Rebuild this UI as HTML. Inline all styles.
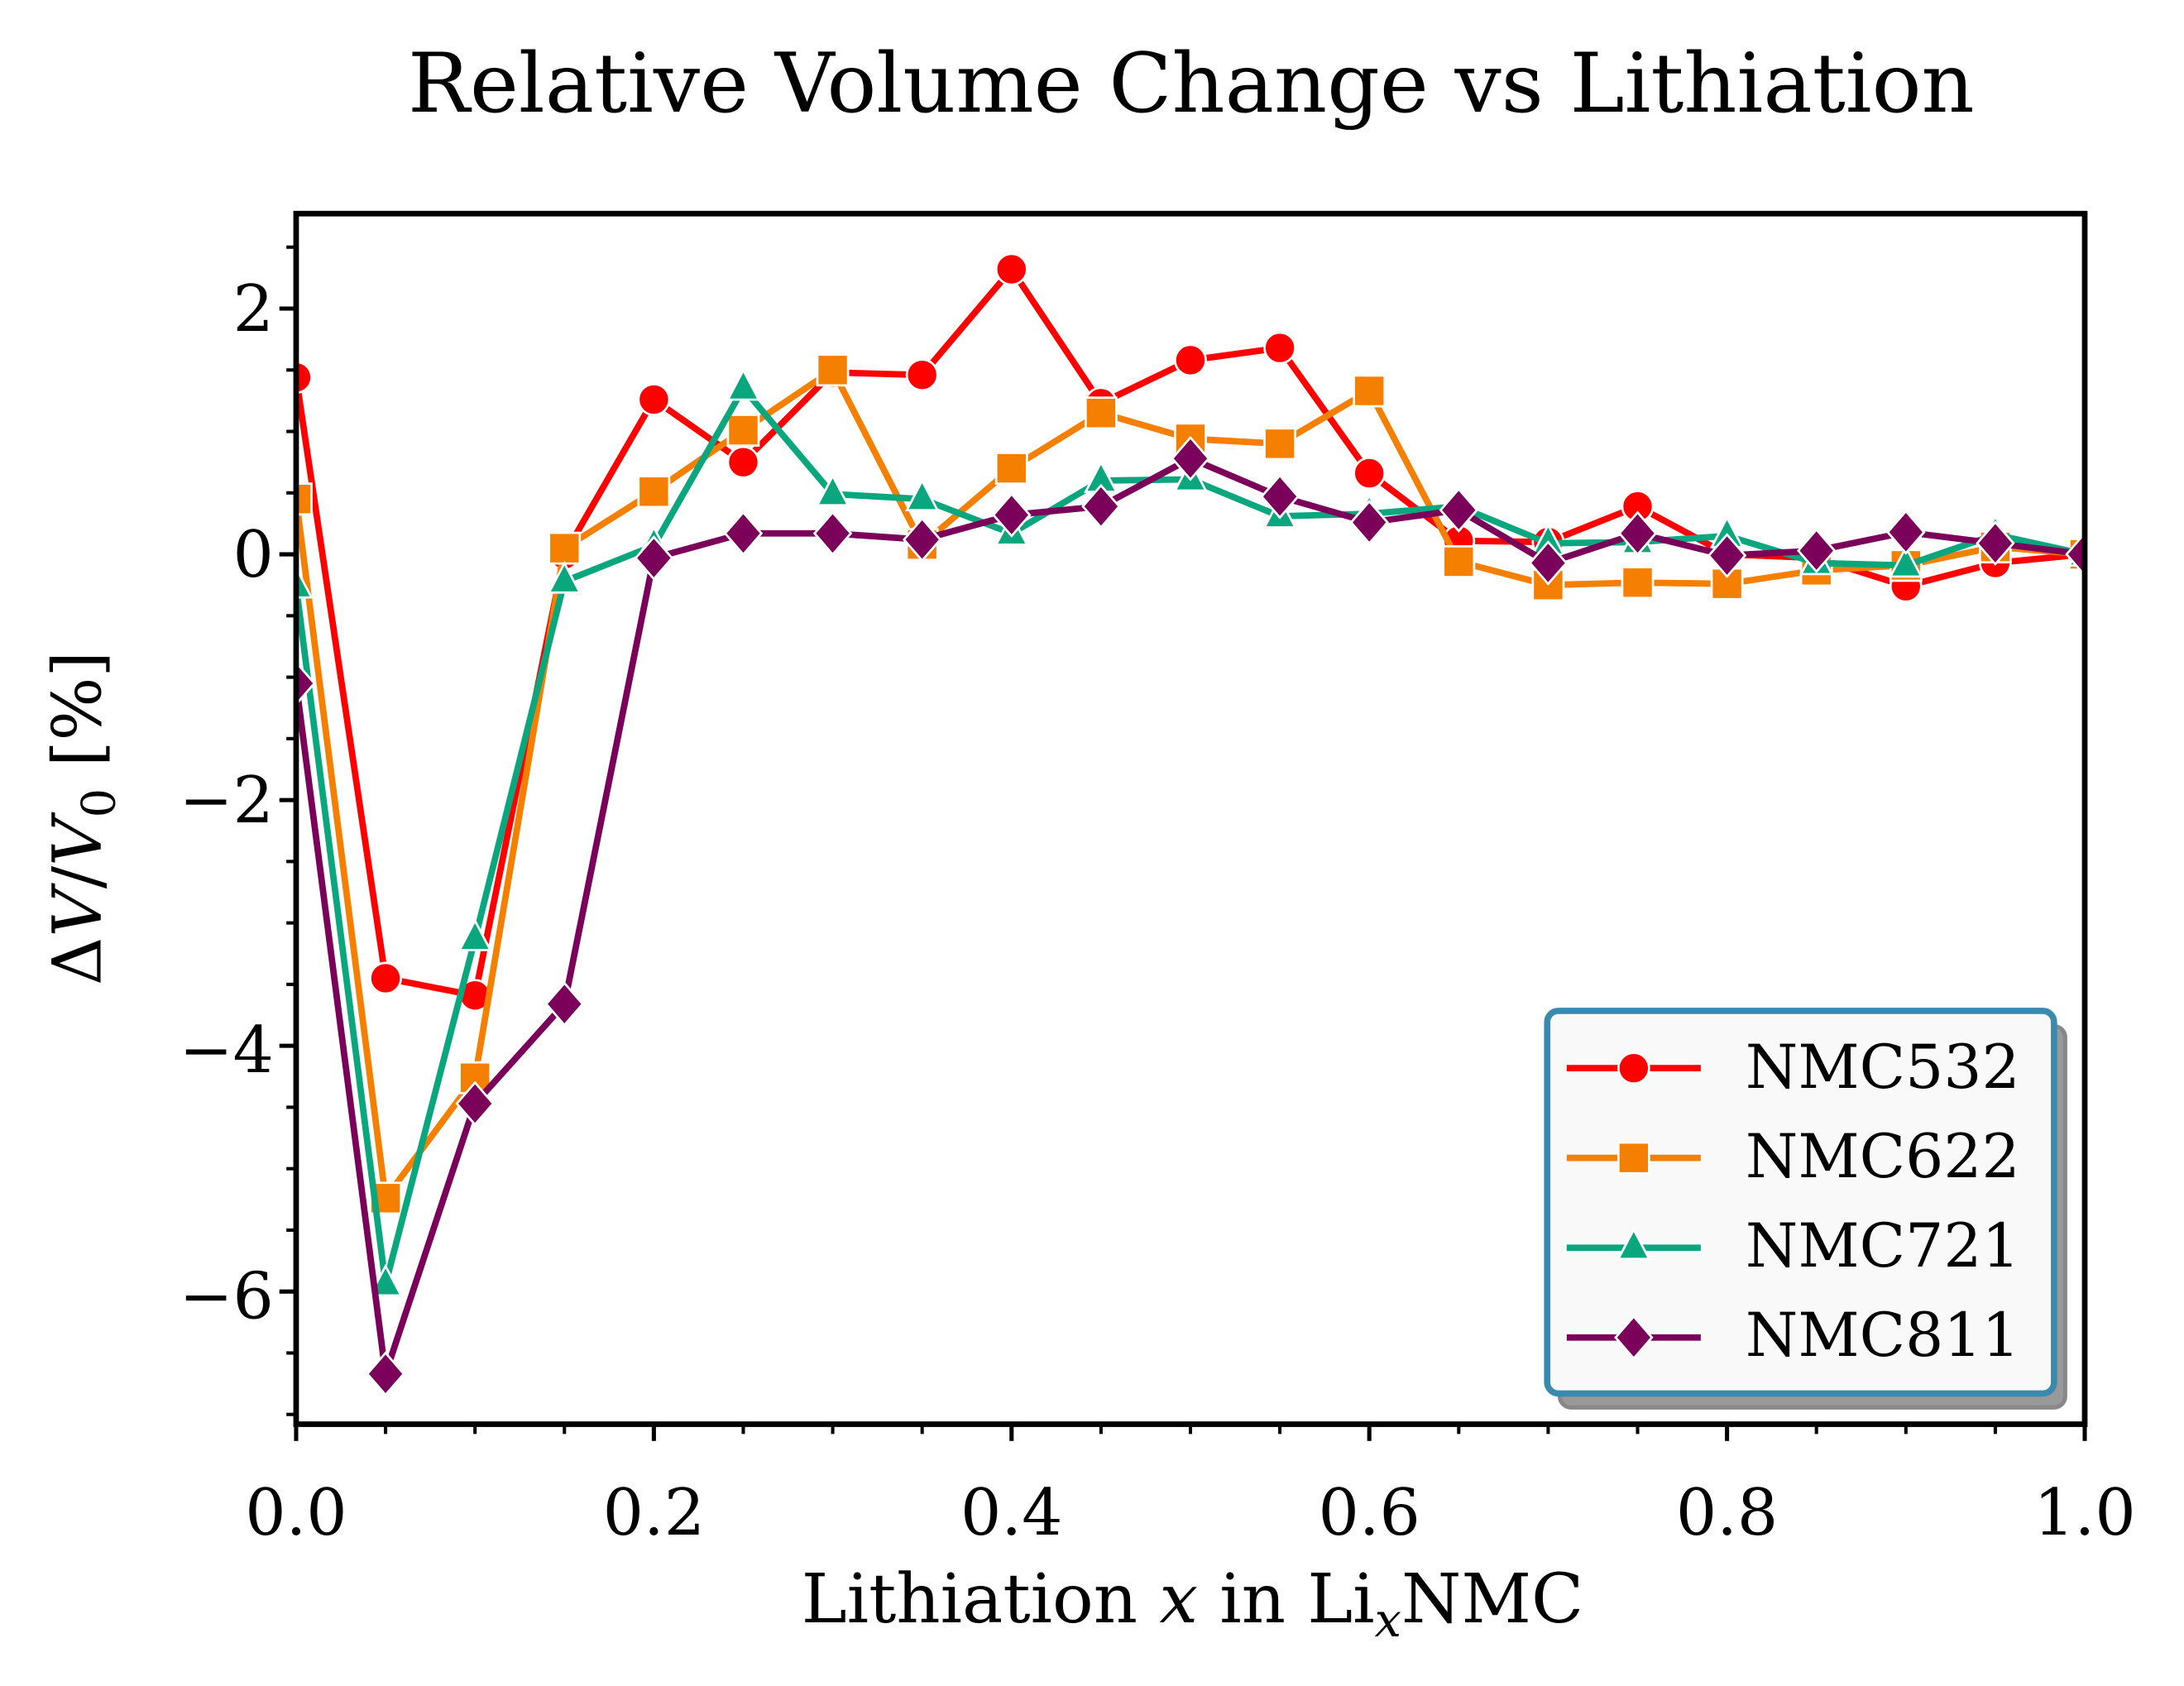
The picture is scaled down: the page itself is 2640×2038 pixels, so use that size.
<!DOCTYPE html>
<html><head><meta charset="utf-8"><style>
html,body{margin:0;padding:0;background:#fff}
svg{display:block}
text{font-family:"DejaVu Serif","Liberation Serif",serif;fill:#000}
</style></head><body>
<svg id="s" width="2640" height="2038" viewBox="0 0 1564 1207.5" xmlns="http://www.w3.org/2000/svg">
<defs><clipPath id="c"><rect x="212" y="153" width="1281" height="867"/></clipPath></defs>
<rect width="1566" height="1209" fill="#fff"/>
<text x="853" y="80" font-size="59" text-anchor="middle">Relative Volume Change vs Lithiation</text>
<g id="ticks" stroke="#000"></g>
<g id="series" clip-path="url(#c)"></g>
<rect x="212" y="153" width="1281" height="867" fill="none" stroke="#000" stroke-width="4"/>
<g font-size="46" text-anchor="end">
<text x="196" y="237">2</text>
<text x="196" y="413">0</text>
<text x="196" y="589">−2</text>
<text x="196" y="768">−4</text>
<text x="196" y="944">−6</text>
</g>
<g font-size="46" text-anchor="middle">
<text x="212" y="1099">0.0</text>
<text x="468.2" y="1099">0.2</text>
<text x="724.4" y="1099">0.4</text>
<text x="980.6" y="1099">0.6</text>
<text x="1236.8" y="1099">0.8</text>
<text x="1493" y="1099">1.0</text>
</g>
<text x="854" y="1162" font-size="49" text-anchor="middle">Lithiation <tspan font-style="italic">x</tspan> in Li<tspan font-size="34" dy="10" font-style="italic">x</tspan><tspan dy="-10">NMC</tspan></text>
<text transform="translate(72,586) rotate(-90)" font-size="48" text-anchor="middle">Δ<tspan font-style="italic">V</tspan>/<tspan font-style="italic">V</tspan><tspan font-size="33" dy="10">0</tspan><tspan dy="-10"> [%]</tspan></text>
<rect x="1117" y="735" width="362" height="273" rx="8" fill="#999" stroke="#888" stroke-width="3"/>
<rect x="1108" y="724" width="363" height="274" rx="8" fill="#f9f9f9" stroke="#3a8ab0" stroke-width="4.5"/>
<g id="leg"></g>
<g font-size="43">
<text x="1250" y="779">NMC532</text>
<text x="1250" y="843">NMC622</text>
<text x="1250" y="907">NMC721</text>
<text x="1250" y="971">NMC811</text>
</g>
</svg>
<script>
const NS="http://www.w3.org/2000/svg";
function el(p,t,a){const e=document.createElementNS(NS,t);for(const k in a)e.setAttribute(k,a[k]);p.appendChild(e);return e;}
const tk=document.getElementById('ticks');
const Y=v=>397-88*v, X=x=>212+1281*x;
for(let v=-7;v<=2.5;v+=0.5){const maj=Math.abs(v%2)<1e-9;el(tk,'line',{x1:212,x2:212-(maj?12:7),y1:Y(v),y2:Y(v),'stroke-width':maj?3:2.4});}
for(let i=0;i<=20;i++){const maj=i%4==0;el(tk,'line',{x1:X(i*0.05),x2:X(i*0.05),y1:1020,y2:1020+(maj?12:7),'stroke-width':maj?3:2.4});}
const data=[
["#ff0000","o",[1.44,-3.45,-3.59,0.0,1.26,0.75,1.48,1.46,2.32,1.23,1.58,1.68,0.66,0.11,0.1,0.39,0,-0.03,-0.26,-0.07,0]],
["#f57f00","s",[0.45,-5.24,-4.26,0.05,0.51,1.01,1.5,0.08,0.7,1.15,0.94,0.9,1.33,-0.06,-0.25,-0.23,-0.24,-0.13,-0.09,0.06,0]],
["#0aa77f","^",[-0.26,-5.94,-3.13,-0.22,0.07,1.35,0.49,0.45,0.17,0.6,0.61,0.31,0.33,0.39,0.09,0.1,0.15,-0.07,-0.09,0.16,0]],
["#7a005a","d",[-1.05,-6.67,-4.47,-3.66,-0.03,0.17,0.17,0.12,0.32,0.39,0.78,0.47,0.26,0.36,-0.07,0.17,-0.01,0.03,0.18,0.09,0]]];
function mk(g,m,x,y,c){const a={fill:c,stroke:'#fff','stroke-width':1.6};
 if(m=='o')el(g,'circle',Object.assign({cx:x,cy:y,r:11},a));
 else if(m=='s')el(g,'rect',Object.assign({x:x-11,y:y-11,width:22,height:22},a));
 else if(m=='^')el(g,'polygon',Object.assign({points:`${x},${y-13} ${x-11},${y+8} ${x+11},${y+8}`},a));
 else el(g,'polygon',Object.assign({points:`${x},${y-15} ${x-13},${y} ${x},${y+15} ${x+13},${y}`},a));}
const sg=document.getElementById('series');
data.forEach(([c,m,v])=>{const pts=v.map((y,i)=>[X(i*0.05),Y(y)]);
 el(sg,'polyline',{points:pts.map(p=>p.join(',')).join(' '),fill:'none',stroke:c,'stroke-width':4.6,'stroke-linejoin':'round'});
 pts.forEach(p=>mk(sg,m,p[0],p[1],c));});
const lg=document.getElementById('leg');
data.forEach(([c,m],i)=>{const y=765+i*64.3;el(lg,'line',{x1:1122,x2:1218,y1:y,y2:y,stroke:c,'stroke-width':4.6});mk(lg,m,1170,y,c);});
</script>
</body></html>
